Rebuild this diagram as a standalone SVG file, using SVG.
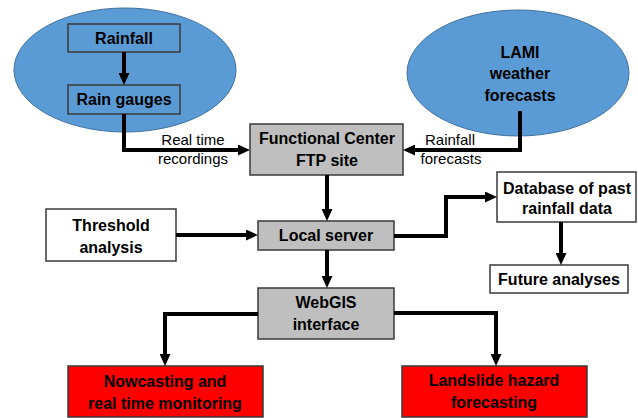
<svg xmlns="http://www.w3.org/2000/svg" width="638" height="418" viewBox="0 0 638 418">
<style>
.ell{fill:#5B9BD5;stroke:#41719C;stroke-width:1}
.box{stroke:#3a3a3a;stroke-width:1.5}
.blue{fill:#5B9BD5}
.white{fill:#ffffff}
.gray{fill:#BFBFBF}
.red{fill:#FF0000}
.t{font-family:"Liberation Sans",Arial,sans-serif;font-weight:bold;font-size:16px;fill:#000;text-anchor:middle}
.s{font-family:"Liberation Sans",Arial,sans-serif;font-size:15px;fill:#000;text-anchor:middle}
.c{fill:none;stroke:#000;stroke-width:4;marker-end:url(#ah)}
</style>
<defs>
<marker id="ah" markerUnits="userSpaceOnUse" markerWidth="12" markerHeight="11" viewBox="0 0 12 11" refX="1" refY="5.5" orient="auto">
<path d="M0,0 L12,5.5 L0,11 z" fill="#000"/>
</marker>
</defs>
<rect width="638" height="418" fill="#ffffff"/>
<g id="rain-ellipse"><ellipse class="ell" cx="125" cy="70" rx="111" ry="62"/></g>
<g id="lami"><ellipse class="ell" cx="518" cy="73" rx="111" ry="63"/>
<text class="t" x="520" y="58">LAMI</text><text class="t" x="520" y="79">weather</text><text class="t" x="520" y="101">forecasts</text></g>
<g id="rainfall"><rect class="box blue" x="68" y="24" width="112" height="28"/><text class="t" x="124" y="44">Rainfall</text></g>
<g id="rain-gauges"><rect class="box blue" x="68" y="85" width="112" height="29"/><text class="t" x="124" y="105">Rain gauges</text></g>
<g id="functional-center"><rect class="box gray" x="250" y="124" width="153" height="51"/><text class="t" x="327" y="144">Functional Center</text><text class="t" x="327" y="166">FTP site</text></g>
<g id="threshold"><rect class="box white" x="46" y="209" width="130" height="52"/><text class="t" x="111" y="231">Threshold</text><text class="t" x="111" y="253">analysis</text></g>
<g id="local-server"><rect class="box gray" x="258" y="221" width="136" height="29"/><text class="t" x="326" y="241">Local server</text></g>
<g id="webgis"><rect class="box gray" x="258" y="288" width="136" height="51"/><text class="t" x="326" y="308">WebGIS</text><text class="t" x="326" y="330">interface</text></g>
<g id="database"><rect class="box white" x="497" y="172" width="139" height="50"/><text class="t" x="567" y="194">Database of past</text><text class="t" x="567" y="214">rainfall data</text></g>
<g id="future"><rect class="box white" x="490" y="265" width="138" height="28"/><text class="t" x="559" y="285">Future analyses</text></g>
<g id="nowcasting"><rect class="box red" x="68" y="366" width="195" height="51"/><text class="t" x="165" y="387">Nowcasting and</text><text class="t" x="165" y="409">real time monitoring</text></g>
<g id="landslide"><rect class="box red" x="402" y="366" width="185" height="51"/><text class="t" x="494" y="386">Landslide hazard</text><text class="t" x="494" y="408">forecasting</text></g>
<g id="connectors">
<path class="c" d="M124,52 V74"/>
<path class="c" d="M124,114 V150 H239"/>
<path class="c" d="M520,111 V150 H414"/>
<path class="c" d="M327,175 V210"/>
<path class="c" d="M176,235 H247"/>
<path class="c" d="M394,236 H446 V197 H486"/>
<path class="c" d="M327,250 V277"/>
<path class="c" d="M561,222 V254"/>
<path class="c" d="M258,314 H165 V355"/>
<path class="c" d="M394,313 H496 V355"/>
<text class="s" x="193" y="145">Real time</text>
<text class="s" x="193" y="164">recordings</text>
<text class="s" x="450" y="145">Rainfall</text>
<text class="s" x="451" y="164">forecasts</text>
</g>
</svg>
